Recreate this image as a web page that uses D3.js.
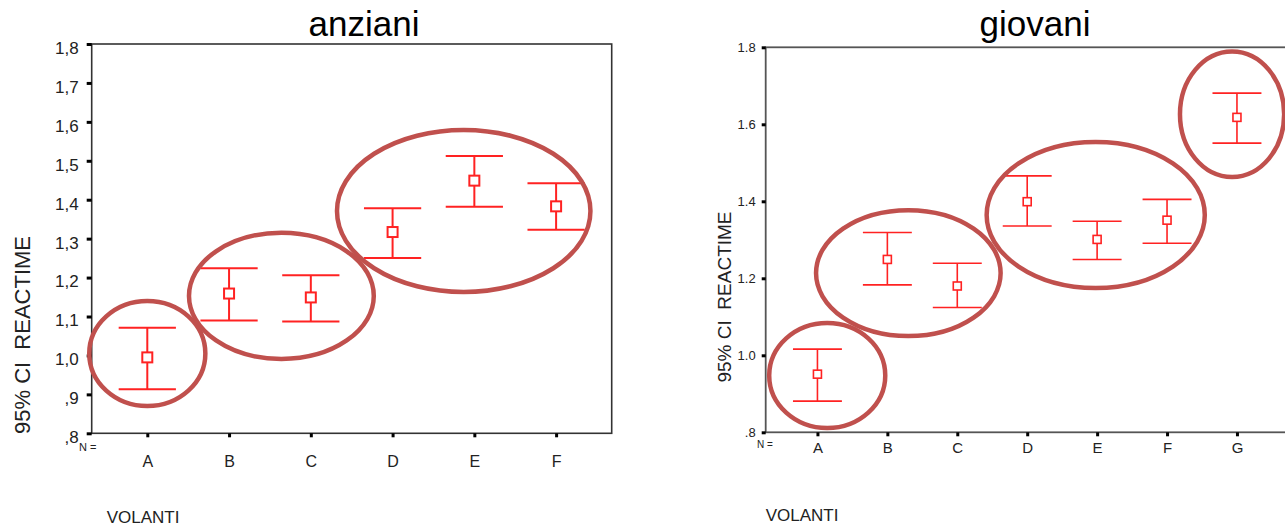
<!DOCTYPE html>
<html>
<head>
<meta charset="utf-8">
<script src="https://cdn.jsdelivr.net/npm/d3@7"></script>
<style>
	body { margin: 0; background: #fff; }
	svg { display: block; font-family: 'Liberation Sans', Arial, sans-serif; }
</style>
</head>
<body>
<svg id="chart" width="1285" height="526"></svg>
<script>

// anziani: 95% CI of reaction time per steering wheel
var anzianiCategories = ['A', 'B', 'C', 'D', 'E', 'F'];
var anzianiMean = [0.995, 1.159, 1.149, 1.317, 1.449, 1.383];
var anzianiLow = [0.913, 1.090, 1.087, 1.250, 1.382, 1.323];
var anzianiHigh = [1.071, 1.224, 1.206, 1.378, 1.512, 1.442];
var anzianiTicks = [0.8, 0.9, 1.0, 1.1, 1.2, 1.3, 1.4, 1.5, 1.6, 1.7, 1.8];
var anzianiTickLabels = [',8', ',9', '1,0', '1,1', '1,2', '1,3', '1,4', '1,5', '1,6', '1,7', '1,8'];

// giovani
var giovaniCategories = ['A', 'B', 'C', 'D', 'E', 'F', 'G'];
var giovaniMean = [0.951, 1.249, 1.180, 1.399, 1.301, 1.351, 1.618];
var giovaniLow = [0.881, 1.183, 1.124, 1.336, 1.249, 1.291, 1.551];
var giovaniHigh = [1.016, 1.319, 1.239, 1.466, 1.348, 1.405, 1.681];
var giovaniTicks = [0.8, 1.0, 1.2, 1.4, 1.6, 1.8];
var giovaniTickLabels = ['.8', '1.0', '1.2', '1.4', '1.6', '1.8'];

// hand drawn rings grouping the wheels (center in category steps, values top/bottom)
var anzianiRings = [
	{cx: 0.00, rx: 0.71, hi: 1.140, lo: 0.870},
	{cx: 1.64, rx: 1.13, hi: 1.315, lo: 0.991},
	{cx: 3.87, rx: 1.55, hi: 1.579, lo: 1.163}
];
var giovaniRings = [
	{cx: 0.14, rx: 0.83, hi: 1.084, lo: 0.811},
	{cx: 1.30, rx: 1.32, hi: 1.377, lo: 1.050},
	{cx: 3.98, rx: 1.56, hi: 1.554, lo: 1.175},
	{cx: 5.93, rx: 0.745, hi: 1.789, lo: 1.463}
];

var svg = d3.select('#chart');
var barColor = '#f22';
var ringColor = '#c0504d';

/**
 * Draws one error bar panel
 */
var drawPanel = function(o) {

	var x = d3.scalePoint().domain(o.categories).range([o.left, o.right]).padding(o.padding);
	var y = d3.scaleLinear().domain([0.8, 1.8]).range([o.bottom, o.top]);
	var step = x.step();

	var g = svg.append('g');

	// 1. Title
	g.append('text')
		.attr('x', o.titleX).attr('y', 36)
		.attr('text-anchor', 'middle')
		.style('font-size', '35px')
		.text(o.title);

	// 2. Frame
	g.append('rect')
		.attr('x', o.left).attr('y', o.top)
		.attr('width', o.right - o.left).attr('height', o.bottom - o.top)
		.style('fill', 'none')
		.style('stroke', o.frameColor)
		.style('stroke-width', o.frameWidth);

	// 3. Axes
	var yAxis = g.append('g')
		.attr('transform', 'translate(' + o.left + ',0)')
		.call(d3.axisLeft(y).tickValues(o.ticks).tickSize(o.yTickSize).tickPadding(o.yTickPadding)
			.tickFormat(function(d, i) { return o.tickLabels[i]; }));
	yAxis.select('.domain').remove();
	yAxis.selectAll('line').style('stroke', '#000').style('stroke-width', 3);
	yAxis.selectAll('text')
		.style('font-size', o.yFont + 'px')
		.style('fill', '#222')
		.attr('dy', o.yDy);

	var xAxis = g.append('g')
		.attr('transform', 'translate(0,' + o.bottom + ')')
		.call(d3.axisBottom(x).tickSize(4).tickPadding(o.xTickPadding));
	xAxis.select('.domain').remove();
	xAxis.selectAll('line').style('stroke', '#000').style('stroke-width', 3);
	xAxis.selectAll('text').style('font-size', o.xFont + 'px').style('fill', '#222');

	g.append('text')
		.attr('x', o.nX).attr('y', o.nY)
		.style('font-size', o.nFont + 'px')
		.style('fill', '#222')
		.text('N =');

	g.append('text')
		.attr('x', o.left + o.volantiDx).attr('y', o.volantiY)
		.style('font-size', '17px')
		.style('fill', '#222')
		.text('VOLANTI');

	g.append('text')
		.attr('transform', 'translate(' + o.yTitleX + ',' + o.yTitleY + ') rotate(-90)')
		.attr('text-anchor', 'middle')
		.attr('dy', '0.35em')
		.style('font-size', o.yTitleFont + 'px')
		.style('fill', '#222')
		.text('95% CI\u00a0\u00a0REACTIME');

	// 4. Error bars
	var bars = g.selectAll('.bar').data(o.categories).enter().append('g').attr('class', 'bar');
	var half = step * 0.35;

	bars.append('line')
		.attr('x1', function(d) { return x(d); }).attr('x2', function(d) { return x(d); })
		.attr('y1', function(d, i) { return y(o.high[i]); })
		.attr('y2', function(d, i) { return y(o.low[i]); });
	bars.append('line')
		.attr('x1', function(d) { return x(d) - half; }).attr('x2', function(d) { return x(d) + half; })
		.attr('y1', function(d, i) { return y(o.high[i]); })
		.attr('y2', function(d, i) { return y(o.high[i]); });
	bars.append('line')
		.attr('x1', function(d) { return x(d) - half; }).attr('x2', function(d) { return x(d) + half; })
		.attr('y1', function(d, i) { return y(o.low[i]); })
		.attr('y2', function(d, i) { return y(o.low[i]); });
	bars.selectAll('line').style('stroke', barColor).style('stroke-width', o.barWidth);

	bars.append('rect')
		.attr('x', function(d) { return x(d) - o.marker / 2; })
		.attr('y', function(d, i) { return y(o.mean[i]) - o.marker / 2; })
		.attr('width', o.marker).attr('height', o.marker)
		.style('fill', '#fff')
		.style('stroke', barColor)
		.style('stroke-width', o.barWidth);

	// 5. Rings
	var x0 = x(o.categories[0]);
	g.selectAll('.ring').data(o.rings).enter().append('ellipse')
		.attr('class', 'ring')
		.attr('cx', function(d) { return x0 + d.cx * step; })
		.attr('cy', function(d) { return (y(d.hi) + y(d.lo)) / 2; })
		.attr('rx', function(d) { return d.rx * step; })
		.attr('ry', function(d) { return (y(d.lo) - y(d.hi)) / 2; })
		.style('fill', 'none')
		.style('stroke', ringColor)
		.style('stroke-width', 4.5);
};

drawPanel({
	title: 'anziani', titleX: 364,
	categories: anzianiCategories, mean: anzianiMean, low: anzianiLow, high: anzianiHigh,
	ticks: anzianiTicks, tickLabels: anzianiTickLabels, rings: anzianiRings,
	left: 91.7, right: 611.7, top: 44, bottom: 433.3, padding: 0.68,
	frameColor: '#333', frameWidth: 1.6,
	yTickSize: 5, yTickPadding: 8, yFont: 17, yDy: '0.55em',
	xTickPadding: 18, xFont: 16,
	nX: 79, nY: 451, nFont: 11,
	volantiDx: 15, volantiY: 523,
	yTitleX: 22, yTitleY: 335, yTitleFont: 22,
	barWidth: 2, marker: 10
});

drawPanel({
	title: 'giovani', titleX: 1035,
	categories: giovaniCategories, mean: giovaniMean, low: giovaniLow, high: giovaniHigh,
	ticks: giovaniTicks, tickLabels: giovaniTickLabels, rings: giovaniRings,
	left: 765.7, right: 1288.7, top: 47.3, bottom: 432.3, padding: 0.74,
	frameColor: '#555', frameWidth: 1.8,
	yTickSize: 4, yTickPadding: 6, yFont: 13, yDy: '0.32em',
	xTickPadding: 6, xFont: 15,
	nX: 757, nY: 447.5, nFont: 10,
	volantiDx: 0, volantiY: 521,
	yTitleX: 724, yTitleY: 297, yTitleFont: 19,
	barWidth: 1.6, marker: 8
});

</script>
</body>
</html>
